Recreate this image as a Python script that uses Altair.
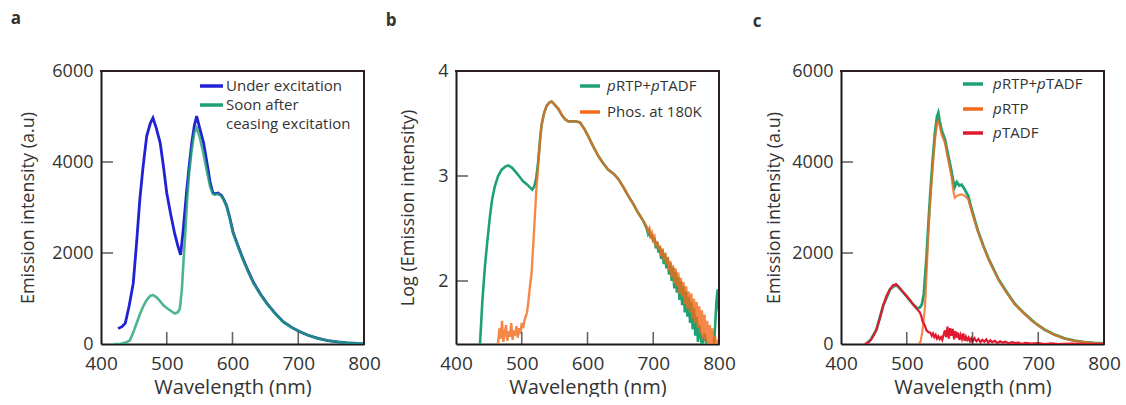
import altair as alt
import pandas as pd

FONT = "Open Sans"
TXT = "#333333"
BLUE = "#2121d6"
GREEN = "#1fa271"
ORANGE = "#f26a1b"
RED = "#e01a30"
FRAME = "#1a1a1a"
EDGE = "#2d1f1f"

A_BLUE_WL = [426, 432, 437, 443, 449, 454, 459, 464, 469.5, 475, 479, 484, 490, 495, 500, 506, 512, 517, 521,
             525, 530, 534, 538, 542, 545.5, 550, 556, 561, 566, 570, 573, 578, 583.5, 587, 591, 596, 601, 608,
             616, 624, 632, 642, 652, 664, 677, 690, 702.7, 715, 730, 745, 760, 775, 790, 800]
A_BLUE = [340, 380, 460, 850, 1330, 2200, 3170, 3900, 4570, 4850, 4970, 4750, 4420, 3900, 3320, 2850, 2430, 2150, 1960,
          2500, 3320, 3900, 4420, 4800, 5010, 4750, 4420, 4000, 3550, 3330, 3300, 3320, 3260, 3170, 3040, 2770, 2450, 2170,
          1870, 1600, 1350, 1110, 900, 690, 490, 365, 268, 192, 122, 76, 46, 26, 13, 9]

A_GREEN_WL = [420, 430, 438, 444, 449, 454, 459, 464, 470, 475, 479.5, 485, 490, 495, 501, 507, 512.5, 517, 520,
              523, 525, 528, 531, 534, 538, 542, 545.5, 550, 555.6, 561, 566, 570, 573, 578, 583.5, 587, 591, 596,
              601, 608, 616, 624, 632, 642, 652, 664, 677, 690, 702.7, 715, 730, 745, 760, 775, 790, 800]
A_GREEN = [0, 5, 30, 80, 250, 450, 650, 820, 980, 1060, 1075, 1020, 940, 850, 780, 720, 670, 700, 780,
           1200, 1700, 2400, 3170, 3750, 4270, 4650, 4750, 4550, 4200, 3800, 3460, 3300, 3280, 3300, 3240, 3150, 3020, 2750,
           2430, 2150, 1850, 1580, 1330, 1100, 890, 680, 485, 360, 265, 190, 120, 75, 45, 25, 12, 8]

B_GREEN_WL = [434, 436.5, 440, 444, 448, 451.7, 455, 459, 464, 469.5, 475, 479.5, 485, 492, 497, 502, 508, 513, 516,
              519, 522, 525, 528, 530, 534, 538, 542, 545.5, 550, 555.6, 561, 566, 571, 576, 582, 588.6, 595, 601,
              608, 616.5, 624, 631.6, 640, 647, 655, 662, 670, 677, 685,
              690, 692, 694, 696, 698, 700, 702, 704, 706, 708, 710, 712, 714, 716, 718, 720, 722, 724, 726, 728,
              730, 732, 734, 736, 738, 740, 742, 744, 746, 748, 750, 752, 754, 756, 758, 760, 762, 764, 766, 768,
              770, 774, 778, 782, 786, 790, 792, 794, 796, 798, 800]
B_GREEN = [1.10, 1.40, 1.80, 2.14, 2.40, 2.62, 2.78, 2.90, 3.00, 3.06, 3.09, 3.10, 3.08, 3.03, 2.99, 2.95, 2.92, 2.89, 2.87,
           2.90, 2.98, 3.14, 3.36, 3.48, 3.60, 3.67, 3.70, 3.71, 3.68, 3.64, 3.58, 3.54, 3.52, 3.52, 3.52, 3.51, 3.45, 3.38,
           3.29, 3.19, 3.12, 3.06, 3.02, 2.97, 2.89, 2.81, 2.73, 2.65, 2.57,
           2.50, 2.45, 2.48, 2.41, 2.45, 2.37, 2.41, 2.31, 2.37, 2.27, 2.33, 2.21, 2.30, 2.16, 2.26, 2.12, 2.22, 2.06, 2.17, 2.00,
           2.13, 1.93, 2.09, 1.89, 2.04, 1.82, 2.00, 1.77, 1.95, 1.70, 1.90, 1.66, 1.85, 1.60, 1.80, 1.54, 1.74, 1.48, 1.66, 1.42,
           1.58, 1.38, 1.50, 1.36, 1.30, 1.30, 1.38, 1.55, 1.80, 1.92, 1.70]

B_ORANGE_WL = [463, 466, 468, 470, 472, 474, 476, 478, 480, 482, 484, 486, 488, 490, 492, 494, 496, 498, 500, 502, 504,
               506, 508, 510, 512, 515, 518, 520, 522, 525, 528, 530, 534, 538, 542, 545.5, 550, 555.6, 561, 566, 571,
               576, 582, 588.6, 595, 601, 608, 616.5, 624, 631.6, 640, 647, 655, 662, 670, 677, 685,
               690, 692, 694, 696, 698, 700, 702, 704, 706, 708, 710, 712, 714, 716, 718, 720, 722, 724, 726, 728,
               730, 732, 734, 736, 738, 740, 742, 744, 746, 748, 750, 752, 754, 756, 758, 760, 762, 764, 766, 768,
               770, 772, 774, 776, 778, 780, 782, 784, 786, 788, 790, 792, 794, 796, 798, 800]
B_ORANGE = [1.35, 1.55, 1.45, 1.62, 1.42, 1.50, 1.58, 1.43, 1.52, 1.47, 1.60, 1.44, 1.53, 1.48, 1.57, 1.46, 1.55, 1.50, 1.60, 1.55, 1.62,
            1.66, 1.70, 1.80, 1.92, 2.08, 2.40, 2.62, 2.85, 3.10, 3.35, 3.48, 3.60, 3.67, 3.70, 3.71, 3.68, 3.64, 3.58, 3.54, 3.52,
            3.52, 3.52, 3.51, 3.45, 3.38, 3.29, 3.19, 3.12, 3.06, 3.02, 2.97, 2.89, 2.81, 2.73, 2.65, 2.57,
            2.52, 2.47, 2.50, 2.43, 2.46, 2.39, 2.42, 2.33, 2.38, 2.30, 2.34, 2.24, 2.31, 2.20, 2.27, 2.16, 2.23, 2.10, 2.19, 2.04,
            2.15, 1.98, 2.12, 1.95, 2.08, 1.88, 2.03, 1.85, 1.99, 1.78, 1.95, 1.74, 1.90, 1.70, 1.88, 1.64, 1.83, 1.60, 1.80, 1.55,
            1.76, 1.50, 1.72, 1.45, 1.68, 1.42, 1.62, 1.38, 1.58, 1.36, 1.55, 1.35, 1.48, 1.36, 1.44, 1.35]

C_SUM_WL = [438, 445, 454, 464, 474.5, 483.6, 495, 507.5, 516, 520, 523, 526, 528, 530, 532.8, 536, 539.5, 543, 546, 548,
            550, 553, 558, 563, 568, 571, 573, 576, 580, 583.5, 588, 593.6, 597, 601, 608, 616.5, 624, 631.8, 640, 652,
            664, 677, 690, 697.6, 710, 725, 740, 755, 770, 785, 800]
C_SUM = [0, 90, 320, 835, 1200, 1310, 1130, 910, 780, 800, 870, 1100, 1500, 1900, 2600, 3350, 4050, 4650, 5000, 5080,
         4900, 4700, 4500, 4150, 3800, 3550, 3450, 3560, 3480, 3500, 3400, 3250, 3050, 2850, 2500, 2160, 1890, 1650, 1410, 1140,
         890, 700, 525, 435, 315, 205, 125, 72, 42, 22, 12]

C_RTP_WL = [518, 521, 524, 527.8, 530, 532.8, 536, 539.5, 543, 546, 548, 550, 553, 558, 563, 568, 571, 573, 576, 580,
            583.5, 588, 593.6, 597, 601, 608, 616.5, 624, 631.8, 640, 652, 664, 677, 690, 697.6, 710, 725, 740, 755,
            770, 785, 800]
C_RTP = [0, 50, 300, 835, 1500, 2450, 3200, 3910, 4500, 4850, 4900, 4800, 4600, 4420, 4050, 3690, 3350, 3215, 3250, 3280,
         3290, 3260, 3180, 3000, 2810, 2480, 2150, 1880, 1640, 1400, 1130, 880, 690, 520, 430, 310, 200, 120, 70,
         40, 20, 10]

C_TADF_WL = [436, 441.5, 446, 450, 454, 459, 464, 469, 474.5, 479, 483.6, 487, 491, 495, 500, 504, 507.5, 512, 516, 520,
             522, 524, 527.8, 530, 533, 536, 538, 540, 542, 544, 546, 548, 550, 552, 554, 556, 558, 560, 562, 564, 566,
             568, 570, 572, 574, 576, 578, 580, 582, 584, 586, 588, 590, 592, 594, 596, 598, 600, 603, 606, 609, 612,
             615, 618, 621, 624, 627, 630, 634, 638, 642, 646, 650, 655, 660, 665, 670, 675, 680, 690, 700, 710, 720,
             730, 750, 770, 800]
C_TADF = [0, 30, 100, 200, 320, 560, 835, 1050, 1200, 1290, 1310, 1270, 1200, 1130, 1050, 980, 910, 830, 760, 690,
          620, 500, 395, 300, 260, 250, 180, 230, 150, 200, 120, 170, 110, 150, 90, 200, 300, 150, 380, 120, 350,
          180, 330, 100, 280, 140, 250, 90, 200, 110, 230, 70, 160, 90, 140, 60, 120, 50, 130, 60, 110, 40,
          90, 50, 100, 30, 80, 40, 70, 20, 60, 30, 50, 10, 40, 20, 30, 0, 25, 10, 20, 0, 15,
          0, 10, 0, 0]

X_TICKS = [400, 500, 600, 700, 800]
X_INNER = [500, 600, 700]
Y_TICKS_AC = [0, 2000, 4000, 6000]
Y_INNER_AC = [2000, 4000]
Y_TICKS_B = [2, 3, 4]
Y_INNER_B = [2, 3]

W, H = 263, 273
XSCALE = alt.Scale(domain=[400, 800], nice=False, zero=False)


def xs():
    return alt.X("wl:Q", scale=XSCALE,
                 axis=alt.Axis(values=X_TICKS, title="Wavelength (nm)", ticks=False,
                               domain=True, domainColor=FRAME, domainWidth=2,
                               grid=False, labelPadding=10, titlePadding=4, labelFontSize=19, titleFontSize=20,
                               labelFont=FONT, titleFont=FONT, labelColor=TXT, titleColor=TXT,
                               titleFontWeight="normal", format="d", labelFlush=False))


def ys(domain, values, title, tpad):
    return alt.Y("v:Q", scale=alt.Scale(domain=domain, nice=False, zero=False),
                 axis=alt.Axis(values=values, title=title, ticks=False, domain=True, domainColor=FRAME,
                               domainWidth=2, grid=False,
                               labelPadding=8, titlePadding=tpad, labelFontSize=18, titleFontSize=18,
                               labelFont=FONT, titleFont=FONT, labelColor=TXT, titleColor=TXT,
                               titleFontWeight="normal", format="d", labelFlush=False))


def line(wl, v, color, yenc, width=2.5, opacity=1.0):
    return alt.Chart(pd.DataFrame({"wl": wl, "v": v})).mark_line(
        color=color, strokeWidth=width, opacity=opacity, clip=True
    ).encode(x=xs(), y=yenc)


def box(x1, x2, y1, y2, color=EDGE):
    return alt.Chart(pd.DataFrame({"t": [0]})).mark_rect(
        fill=color, color=color, opacity=1, strokeWidth=0
    ).encode(x=alt.value(x1), x2=alt.value(x2), y=alt.value(y1), y2=alt.value(y2))


def frame():
    # top and right edges of the plot frame (left/bottom come from the axis domains)
    return [box(-1, W + 1, -1, 1), box(W - 1, W + 1, -1, H + 1)]


def inner_ticks(yenc, xin, yin):
    xt = alt.Chart(pd.DataFrame({"wl": xin})).mark_tick(color=EDGE, thickness=1.6, size=12,
                                                        orient="vertical", yOffset=-6).encode(
        x=xs(), y=alt.value(H))
    yt = alt.Chart(pd.DataFrame({"v": yin})).mark_tick(color=EDGE, thickness=1.6, size=12,
                                                       orient="horizontal", xOffset=6).encode(
        y=yenc, x=alt.value(0))
    return [xt, yt]


def txt(s, x, y, size=15, style="normal", weight="normal", align="left"):
    return alt.Chart(pd.DataFrame({"t": [s]})).mark_text(
        align=align, baseline="middle", fontSize=size, font=FONT, fontStyle=style,
        fontWeight=weight, color=TXT
    ).encode(x=alt.value(x), y=alt.value(y), text="t:N")


def swatch(x1, x2, y, color):
    return box(x1, x2, y - 1.75, y + 1.75, color=color)


def prtp_ptadf(x, y):
    return [txt("p", x, y, style="italic"), txt("RTP+", x + 9, y),
            txt("p", x + 44, y, style="italic"), txt("TADF", x + 53, y)]


ya = ys([0, 6000], Y_TICKS_AC, "Emission intensity (a.u)", 14)
panel_a = alt.layer(
    line(A_BLUE_WL, A_BLUE, BLUE, ya, width=2.8),
    line(A_GREEN_WL, A_GREEN, GREEN, ya, width=2.6, opacity=0.8),
    *inner_ticks(ya, X_INNER, Y_INNER_AC),
    *frame(),
    swatch(99, 122, 15, BLUE), txt("Under excitation", 125, 15),
    swatch(99, 122, 34, GREEN), txt("Soon after", 125, 34), txt("ceasing excitation", 125, 53),
    txt("a", -85, -52, size=17, weight="bold", align="center"),
).properties(width=W, height=H)

yb = ys([1.4, 4], Y_TICKS_B, "Log (Emission intensity)", 20)
panel_b = alt.layer(
    line(B_GREEN_WL, B_GREEN, GREEN, yb, width=2.6),
    line(B_ORANGE_WL, B_ORANGE, ORANGE, yb, width=2.4, opacity=0.8),
    *inner_ticks(yb, X_INNER, Y_INNER_B),
    *frame(),
    swatch(124, 144, 15, GREEN), *prtp_ptadf(151, 15),
    swatch(124, 144, 41, ORANGE), txt("Phos. at 180K", 151, 41),
    txt("b", -65, -50, size=17, weight="bold", align="center"),
).properties(width=W, height=H)

yc = ys([0, 6000], Y_TICKS_AC, "Emission intensity (a.u)", 8)
panel_c = alt.layer(
    line(C_SUM_WL, C_SUM, GREEN, yc, width=2.8),
    line(C_RTP_WL, C_RTP, ORANGE, yc, width=2.2, opacity=0.8),
    line(C_TADF_WL, C_TADF, RED, yc, width=2.2),
    *inner_ticks(yc, X_INNER, Y_INNER_AC),
    *frame(),
    swatch(122, 142, 13, GREEN), *prtp_ptadf(152, 13),
    swatch(122, 142, 38, ORANGE), txt("p", 152, 38, style="italic"), txt("RTP", 161, 38),
    swatch(122, 142, 62, RED), txt("p", 152, 62, style="italic"), txt("TADF", 161, 62),
    txt("c", -84, -49, size=17, weight="bold", align="center"),
).properties(width=W, height=H)

chart = alt.hconcat(
    alt.hconcat(panel_a, panel_b, spacing=4),
    panel_c,
    spacing=16,
).properties(
    padding={"left": 10, "top": 10, "right": 0, "bottom": 0},
    background="white",
).configure_view(stroke=None)

chart.save("out.html", embed_options={"renderer": "svg", "actions": False})
